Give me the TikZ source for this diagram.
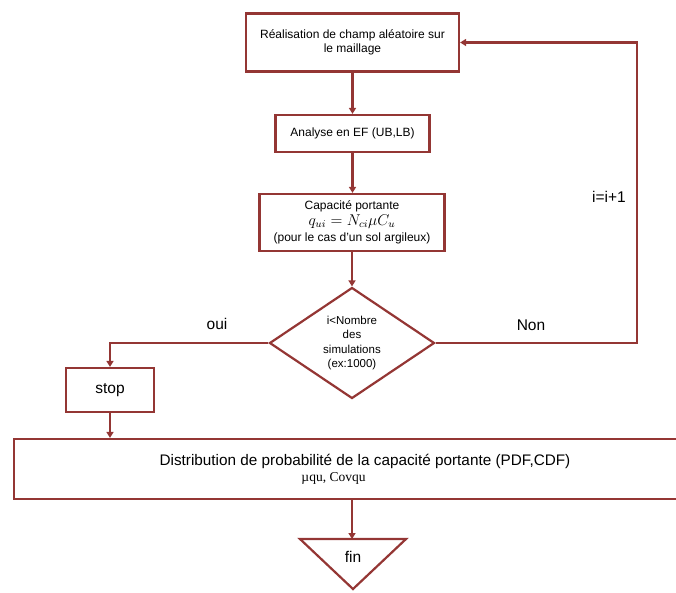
\documentclass[tikz,border=0pt]{standalone}
\usepackage{fontspec}
\setmainfont{Liberation Sans}
\newfontfamily\serifmu{Liberation Serif}
\usetikzlibrary{arrows.meta,shapes.geometric}
\definecolor{flow}{HTML}{943634}
\tikzset{
  boxstyle/.style={draw=flow, line width=2.2pt, fill=white, align=center, inner sep=0pt,
    font=\fontsize{12}{13.5}\selectfont},
  arr/.style={draw=flow, line width=2.2pt, -{Triangle[length=6pt,width=7pt]}},
  ln/.style={draw=flow, line width=2.2pt},
  biglabel/.style={font=\fontsize{15.5}{18}\selectfont, inner sep=0pt},
}
\begin{document}
\begin{tikzpicture}[x=1pt,y=-1pt]
\useasboundingbox (0,0) rectangle (676,592);
\clip (0,0) rectangle (676,592);
\node[boxstyle, minimum width=213pt, minimum height=58pt] (b1) at (352.5,42.5)
  {Réalisation de champ aléatoire sur\\le maillage};
\node[boxstyle, minimum width=154pt, minimum height=37pt] (b2) at (352.5,133.5)
  {Analyse en EF (UB,LB)};
\node[boxstyle, minimum width=185pt, minimum height=57pt] (b3) at (352,222.5)
  {Capacité portante\\[2pt]\scalebox{1.3}{$q_{ui}=N_{ci}\mu C_u$}\\[3pt](pour le cas d’un sol argileux)};
\node[diamond, draw=flow, line width=2.2pt, fill=white, inner sep=0pt, aspect=1.5,
  minimum width=165pt, minimum height=111pt, align=center,
  font=\fontsize{11.5}{14.3}\selectfont] (dia) at (352,343)
  {i<Nombre\\des\\simulations\\(ex:1000)};
\node[boxstyle, minimum width=88pt, minimum height=44pt, font=\fontsize{15.5}{18}\selectfont] (stop) at (110,390) {stop};
\node[boxstyle, minimum width=702pt, minimum height=60pt, font=\fontsize{15.3}{16}\selectfont] (big) at (365,469)
  {Distribution de probabilité de la capacité portante (PDF,CDF)\\[0pt]{\serifmu\fontsize{13.5}{15}\selectfont µqu, Covqu\hspace*{63pt}}};
\coordinate (fintop) at (352,539);
\draw[ln, line join=miter] (300,539) -- (406,539) -- (353,589) -- cycle;
\node[biglabel] (fin) at (353,557) {fin};
\coordinate (lc) at (637,343);
\draw[arr] (b1.south) -- (b1.south |- b2.north);
\draw[arr] (b2.south) -- (b2.south |- b3.north);
\draw[arr] (b3.south) -- (b3.south |- dia.north);
\draw[arr] (dia.west) -| (stop.north);
\draw[arr] (stop.south) -- (stop.south |- big.north);
\draw[arr] (big.south -| fintop) -- (fintop);
\draw[arr] (dia.east) -- (lc) |- (b1.east);
\node[biglabel] (oui) at (217,324) {oui};
\node[biglabel] (non) at (531,325) {Non};
\node[biglabel] (inc) at (609,197) {i=i+1};
\end{tikzpicture}
\end{document}
